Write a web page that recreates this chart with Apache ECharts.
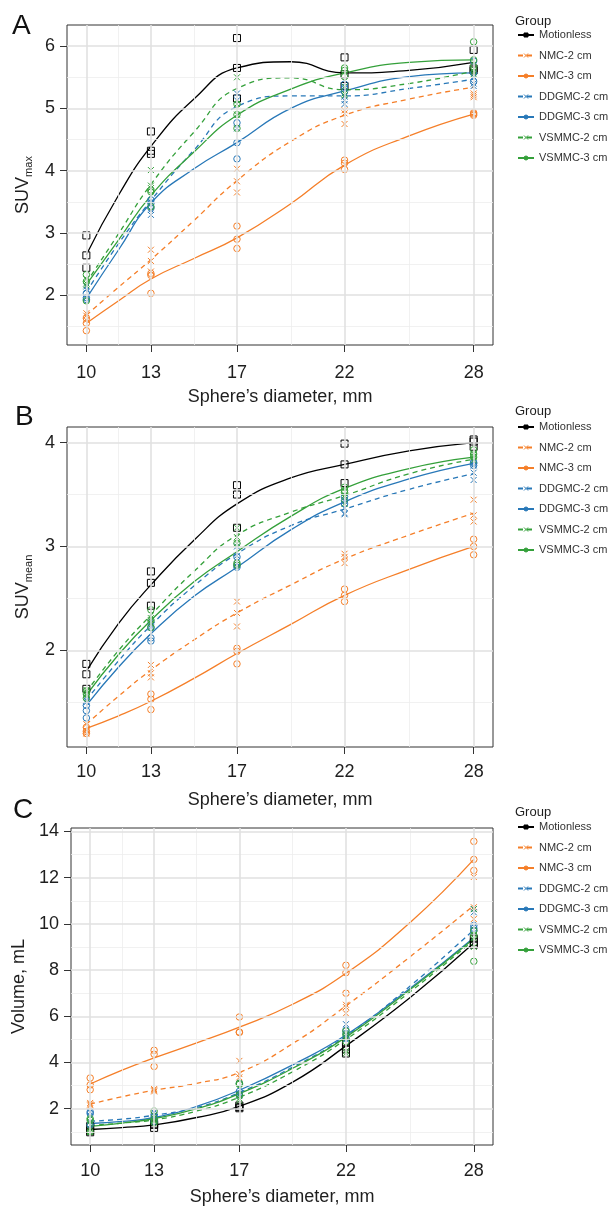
<!DOCTYPE html>
<html><head><meta charset="utf-8">
<script src="https://cdn.jsdelivr.net/npm/echarts@6/dist/echarts.min.js"></script>
<style>html,body{margin:0;padding:0;background:#fff}#c{width:608px;height:1207px}</style>
</head><body><div id="c"></div>
<script>
// ---------- data ----------
const diameters = [10, 13, 17, 22, 28];               // measured sphere diameters (mm)
const fitDiameters = [10, 11.5, 13, 15, 17, 19.5, 22, 25, 28]; // where the fitted curves were read
const xTicks = [10, 13, 17, 22, 28];
const xMinorGrid = [11.5, 15, 19.5, 25];
const groupNames = ['Motionless', 'NMC-2 cm', 'NMC-3 cm', 'DDGMC-2 cm', 'DDGMC-3 cm', 'VSMMC-2 cm', 'VSMMC-3 cm'];

const yTicksA = [2, 3, 4, 5, 6];
const yMinorA = [1.5, 2.5, 3.5, 4.5, 5.5];
const yTicksB = [2, 3, 4];
const yMinorB = [1.5, 2.5, 3.5];
const yTicksC = [2, 4, 6, 8, 10, 12, 14];
const yMinorC = [1, 3, 5, 7, 9, 11, 13];

// Panel A: SUVmax, fitted curve per group (values at fitDiameters)
const suvMaxFit = [
  [2.65, 3.61, 4.39, 5.15, 5.65, 5.75, 5.57, 5.61, 5.74],
  [1.68, 2.13, 2.57, 3.20, 3.84, 4.47, 4.89, 5.15, 5.34],
  [1.55, 1.91, 2.26, 2.59, 2.92, 3.47, 4.09, 4.56, 4.91],
  [2.05, 2.83, 3.52, 4.33, 5.03, 5.20, 5.20, 5.32, 5.47],
  [1.95, 2.73, 3.48, 4.03, 4.45, 5.00, 5.28, 5.51, 5.57],
  [2.20, 2.99, 3.78, 4.62, 5.32, 5.49, 5.30, 5.40, 5.60],
  [2.17, 2.89, 3.60, 4.30, 4.89, 5.31, 5.57, 5.74, 5.78]
];
// Panel A: SUVmax measurements (3 per diameter)
const suvMaxPts_Motionless = [[2.96, 2.64, 2.44], [4.63, 4.32, 4.27], [6.13, 5.65, 5.16], [5.82, 5.55, 5.36], [5.94, 5.64, 5.61]];
const suvMaxPts_NMC2 = [[1.71, 1.67, 1.60], [2.73, 2.55, 2.38], [4.03, 3.83, 3.65], [4.97, 4.92, 4.75], [5.24, 5.21, 5.18]];
const suvMaxPts_NMC3 = [[1.63, 1.55, 1.43], [2.35, 2.32, 2.03], [3.11, 2.90, 2.75], [4.17, 4.12, 4.02], [4.93, 4.91, 4.89]];
const suvMaxPts_DDGMC2 = [[2.14, 2.09, 1.96], [3.50, 3.37, 3.29], [5.24, 5.13, 4.68], [5.19, 5.13, 5.07], [5.51, 5.40, 5.36]];
const suvMaxPts_DDGMC3 = [[2.03, 1.96, 1.93], [3.53, 3.48, 3.40], [4.77, 4.45, 4.19], [5.39, 5.34, 5.27], [5.76, 5.57, 5.43]];
const suvMaxPts_VSMMC2 = [[2.26, 2.19, 2.16], [4.01, 3.76, 3.72], [5.50, 5.07, 4.90], [5.35, 5.24, 5.21], [5.64, 5.59, 5.55]];
const suvMaxPts_VSMMC3 = [[2.33, 2.22, 1.91], [3.69, 3.66, 3.42], [5.07, 4.90, 4.68], [5.65, 5.61, 5.51], [6.07, 5.78, 5.67]];

// Panel B: SUVmean
const suvMeanFit = [
  [1.80, 2.26, 2.63, 3.06, 3.41, 3.66, 3.79, 3.92, 4.00],
  [1.29, 1.56, 1.81, 2.10, 2.36, 2.63, 2.88, 3.11, 3.32],
  [1.25, 1.37, 1.51, 1.73, 1.97, 2.25, 2.53, 2.78, 3.00],
  [1.52, 1.90, 2.24, 2.62, 2.93, 3.20, 3.36, 3.55, 3.70],
  [1.47, 1.84, 2.16, 2.52, 2.80, 3.16, 3.43, 3.65, 3.80],
  [1.60, 2.00, 2.34, 2.76, 3.11, 3.33, 3.49, 3.70, 3.84],
  [1.57, 1.96, 2.29, 2.66, 2.95, 3.29, 3.56, 3.75, 3.86]
];
const suvMeanPts_Motionless = [[1.87, 1.77, 1.63], [2.76, 2.65, 2.43], [3.59, 3.50, 3.18], [3.99, 3.79, 3.61], [4.03, 4.01, 3.96]];
const suvMeanPts_NMC2 = [[1.29, 1.23, 1.20], [1.86, 1.78, 1.74], [2.47, 2.36, 2.23], [2.93, 2.90, 2.84], [3.45, 3.30, 3.24]];
const suvMeanPts_NMC3 = [[1.26, 1.22, 1.20], [1.58, 1.53, 1.43], [2.02, 1.99, 1.87], [2.59, 2.53, 2.47], [3.07, 3.00, 2.92]];
const suvMeanPts_DDGMC2 = [[1.55, 1.52, 1.50], [2.27, 2.24, 2.22], [3.00, 2.91, 2.83], [3.37, 3.32, 3.31], [3.78, 3.71, 3.64]];
const suvMeanPts_DDGMC3 = [[1.47, 1.42, 1.35], [2.22, 2.12, 2.09], [2.90, 2.82, 2.80], [3.48, 3.44, 3.41], [3.81, 3.80, 3.78]];
const suvMeanPts_VSMMC2 = [[1.62, 1.60, 1.57], [2.31, 2.29, 2.26], [3.18, 3.09, 3.03], [3.49, 3.47, 3.41], [3.87, 3.86, 3.83]];
const suvMeanPts_VSMMC3 = [[1.61, 1.58, 1.54], [2.39, 2.29, 2.22], [3.03, 2.84, 2.82], [3.57, 3.54, 3.52], [3.93, 3.89, 3.86]];

// Panel C: Volume, mL
const volumeFit = [
  [1.10, 1.18, 1.30, 1.62, 2.10, 3.15, 4.72, 6.80, 9.17],
  [2.20, 2.52, 2.80, 3.10, 3.57, 4.82, 6.45, 8.57, 10.80],
  [3.07, 3.67, 4.20, 4.85, 5.53, 6.52, 7.86, 10.05, 12.79],
  [1.46, 1.55, 1.72, 2.05, 2.70, 3.80, 5.15, 7.30, 9.75],
  [1.36, 1.45, 1.62, 2.10, 2.80, 3.90, 5.19, 7.20, 9.40],
  [1.28, 1.38, 1.52, 1.90, 2.50, 3.60, 5.00, 7.05, 9.30],
  [1.24, 1.38, 1.57, 2.00, 2.65, 3.75, 5.10, 7.15, 9.36]
];
const volumePts_Motionless = [[1.25, 1.05, 0.98], [1.35, 1.30, 1.17], [2.14, 2.07, 2.02], [4.86, 4.57, 4.39], [9.36, 9.21, 9.10]];
const volumePts_NMC2 = [[2.25, 2.19, 2.14], [2.85, 2.80, 2.75], [4.07, 3.50, 3.36], [6.50, 6.40, 6.13], [12.03, 10.72, 10.21]];
const volumePts_NMC3 = [[3.33, 3.03, 2.82], [4.53, 4.36, 3.83], [5.97, 5.32, 5.30], [8.21, 7.89, 7.00], [13.57, 12.79, 12.31]];
const volumePts_DDGMC2 = [[1.86, 1.43, 1.30], [1.85, 1.70, 1.60], [2.67, 2.62, 2.55], [5.66, 5.20, 5.00], [10.64, 10.50, 9.90]];
const volumePts_DDGMC3 = [[1.86, 1.79, 1.30], [1.75, 1.65, 1.45], [3.10, 2.75, 2.60], [5.40, 5.25, 5.05], [9.93, 9.81, 9.70]];
const volumePts_VSMMC2 = [[1.45, 1.10, 1.00], [1.60, 1.50, 1.45], [2.60, 2.45, 2.35], [5.10, 4.50, 4.40], [10.64, 9.40, 9.00]];
const volumePts_VSMMC3 = [[1.57, 1.50, 1.00], [1.90, 1.55, 1.40], [3.10, 3.05, 2.60], [5.36, 5.20, 4.90], [9.71, 9.50, 8.38]];

// ---------- styling ----------
const FONT = '"Liberation Sans", Arial, Helvetica, sans-serif';
const TXT = '#1e1e1e';
const colors = ['#000000', '#f57f29', '#f57f29', '#2878b8', '#2878b8', '#34a03a', '#34a03a'];
const dashed = [false, true, false, true, false, true, false];
const X_PATH = 'path://M0,0L10,10M10,0L0,10';
const markerKind = ['rect', 'x', 'circle', 'x', 'circle', 'x', 'circle'];

const panels = [
  { fit: suvMaxFit, pts: [suvMaxPts_Motionless, suvMaxPts_NMC2, suvMaxPts_NMC3, suvMaxPts_DDGMC2, suvMaxPts_DDGMC3, suvMaxPts_VSMMC2, suvMaxPts_VSMMC3],
    yMin: 1.2, yMax: 6.34, yTicks: yTicksA, yMinor: yMinorA },
  { fit: suvMeanFit, pts: [suvMeanPts_Motionless, suvMeanPts_NMC2, suvMeanPts_NMC3, suvMeanPts_DDGMC2, suvMeanPts_DDGMC3, suvMeanPts_VSMMC2, suvMeanPts_VSMMC3],
    yMin: 1.07, yMax: 4.15, yTicks: yTicksB, yMinor: yMinorB },
  { fit: volumeFit, pts: [volumePts_Motionless, volumePts_NMC2, volumePts_NMC3, volumePts_DDGMC2, volumePts_DDGMC3, volumePts_VSMMC2, volumePts_VSMMC3],
    yMin: 0.43, yMax: 14.15, yTicks: yTicksC, yMinor: yMinorC }
];

const gridBoxes = [
  { left: 67, top: 25, width: 426, height: 320 },
  { left: 67, top: 427, width: 426, height: 320 },
  { left: 71, top: 828, width: 422, height: 320 }
];
const xLabelMargin = [19, 16, 17];
const xNameGap = [43, 44, 43];
const yNameGap = [28, 28, 40];
const yNames = ['{a|SUV}{b|max}', '{a|SUV}{b|mean}', 'Volume, mL'];

const majorLine = { color: '#e1e1e1', width: 1.6, type: 'solid' };
const minorLine = { color: '#ededed', width: 0.8, type: 'solid' };

const series = [];
panels.forEach((p, pi) => {
  // background grid lines, positioned through the axes' own scales
  series.push({
    type: 'line', xAxisIndex: pi, yAxisIndex: pi, data: [], z: 1, silent: true,
    markLine: {
      silent: true, symbol: ['none', 'none'], label: { show: false }, animation: false,
      emphasis: { disabled: true },
      data: [].concat(
        xMinorGrid.map(v => ({ xAxis: v, lineStyle: minorLine })),
        p.yMinor.map(v => ({ yAxis: v, lineStyle: minorLine })),
        xTicks.map(v => ({ xAxis: v, lineStyle: majorLine })),
        p.yTicks.map(v => ({ yAxis: v, lineStyle: majorLine }))
      )
    }
  });
});
panels.forEach((p, pi) => {
  groupNames.forEach((name, g) => {
    const kind = markerKind[g];
    const legendSym = kind === 'x' ? X_PATH : kind;
    series.push({
      type: 'line', name: name, xAxisIndex: pi, yAxisIndex: pi, z: 3,
      data: fitDiameters.map((d, i) => [d, p.fit[g][i]]),
      smooth: 0.5, showSymbol: false, symbol: legendSym, symbolSize: 4,
      lineStyle: { color: colors[g], width: 1.3, type: dashed[g] ? [5, 4] : 'solid' },
      itemStyle: { color: colors[g], borderColor: colors[g], borderWidth: 1 },
      emphasis: { disabled: true }, silent: true
    });
  });
});
panels.forEach((p, pi) => {
  groupNames.forEach((name, g) => {
    const kind = markerKind[g];
    const data = [];
    diameters.forEach((d, i) => p.pts[g][i].forEach(v => data.push([d, v])));
    series.push({
      type: 'scatter', name: name, xAxisIndex: pi, yAxisIndex: pi, z: 4,
      data: data,
      symbol: kind === 'x' ? X_PATH : kind,
      symbolSize: kind === 'x' ? 6 : (kind === 'rect' ? 7 : 6.5),
      itemStyle: { color: 'rgba(0,0,0,0)', borderColor: colors[g], borderWidth: 1, opacity: 1 },
      emphasis: { disabled: true }, silent: true
    });
  });
});

const letterStyle = { fontSize: 28, fontWeight: 'normal', color: '#111', fontFamily: FONT };
const groupStyle = { fontSize: 13, fontWeight: 'normal', color: TXT, fontFamily: FONT };

const option = {
  animation: false,
  backgroundColor: '#ffffff',
  textStyle: { fontFamily: FONT },
  title: [
    { text: 'A', left: 12, top: 12, padding: 0, textStyle: letterStyle },
    { text: 'B', left: 15, top: 403, padding: 0, textStyle: letterStyle },
    { text: 'C', left: 13, top: 796, padding: 0, textStyle: letterStyle },
    { text: 'Group', left: 515, top: 15, padding: 0, textStyle: groupStyle },
    { text: 'Group', left: 515, top: 405, padding: 0, textStyle: groupStyle },
    { text: 'Group', left: 515, top: 806, padding: 0, textStyle: groupStyle }
  ],
  legend: [29, 421, 821].map(t => ({
    orient: 'vertical', left: 517, top: t, padding: 0,
    itemWidth: 16, itemHeight: 5, itemGap: 8.5, selectedMode: false,
    data: groupNames,
    itemStyle: { borderWidth: 1 },
    textStyle: { fontSize: 11, color: '#333', lineHeight: 12, fontFamily: FONT }
  })),
  grid: gridBoxes.map(b => Object.assign({ show: true, borderColor: '#333', borderWidth: 1, backgroundColor: 'transparent', containLabel: false }, b)),
  xAxis: panels.map((p, i) => ({
    gridIndex: i, type: 'value', min: 9.1, max: 28.9,
    splitLine: { show: false }, axisLine: { show: false },
    axisTick: { show: true, length: 7, customValues: xTicks, lineStyle: { color: '#333', width: 1 } },
    axisLabel: { customValues: xTicks, margin: xLabelMargin[i], fontSize: 18, color: TXT, fontFamily: FONT },
    name: 'Sphere\u2019s diameter, mm', nameLocation: 'middle', nameGap: xNameGap[i],
    nameTextStyle: { fontSize: 18, color: TXT, fontFamily: FONT }
  })),
  yAxis: panels.map((p, i) => ({
    gridIndex: i, type: 'value', min: p.yMin, max: p.yMax,
    splitLine: { show: false }, axisLine: { show: false },
    axisTick: { show: true, length: 7, customValues: p.yTicks, lineStyle: { color: '#333', width: 1 } },
    axisLabel: { customValues: p.yTicks, margin: 12, fontSize: 18, color: TXT, fontFamily: FONT },
    name: yNames[i], nameLocation: 'middle', nameRotate: 90, nameGap: yNameGap[i],
    nameTextStyle: {
      fontSize: 18, color: TXT, fontFamily: FONT,
      rich: {
        a: { fontSize: 18, color: TXT, fontFamily: FONT },
        b: { fontSize: 11, color: TXT, fontFamily: FONT, padding: [12, 0, 0, 0] }
      }
    }
  })),
  series: series
};

const chart = echarts.init(document.getElementById('c'), null, { renderer: 'canvas' });
chart.setOption(option);
</script>
</body></html>
